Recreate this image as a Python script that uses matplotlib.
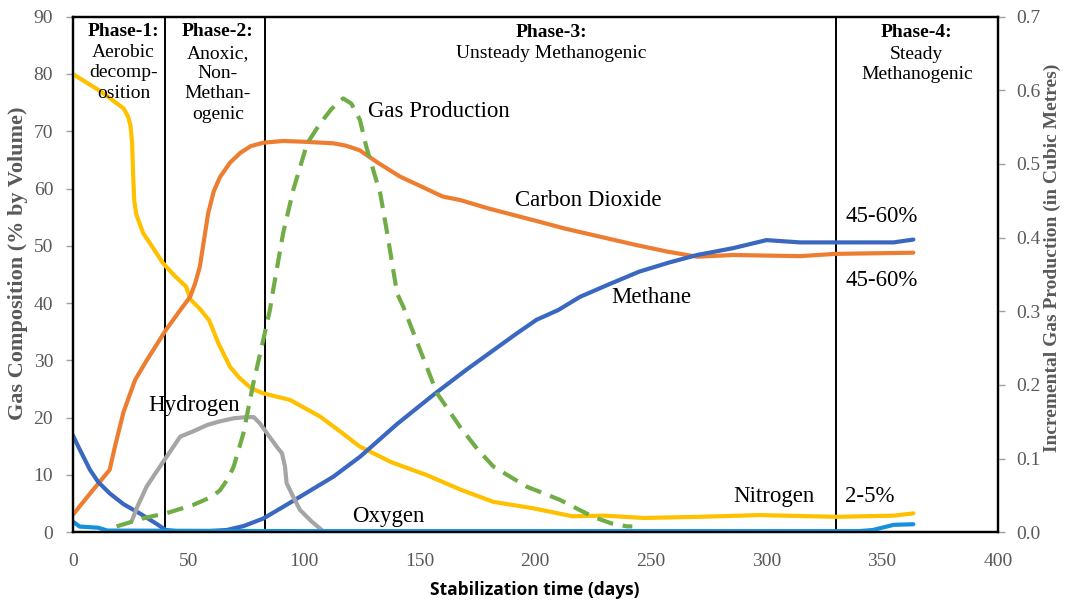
import matplotlib
matplotlib.use("Agg")
import matplotlib.pyplot as plt

# stabilisation time (days) and gas composition (% by volume)
nitrogen_days = [0, 12, 22, 24, 25, 25.7, 26.1, 26.6, 27.5, 30.5, 35, 39, 44, 49, 51, 55, 59, 63,
                 68, 72, 77, 82, 94, 107, 116, 124, 138, 153, 168, 182, 199, 216, 230, 247, 271,
                 297, 330, 355, 363.5]
nitrogen = [80, 77, 74, 72.5, 71, 68, 63, 58, 55.5, 52.2, 49.5, 47, 44.8, 42.9, 40.6, 39, 37, 33,
            28.9, 27, 25.2, 24.3, 23.1, 20.2, 17.5, 15, 12.2, 10, 7.4, 5.3, 4.2, 2.8, 2.9, 2.5, 2.7,
            3.0, 2.7, 2.9, 3.3]

co2_days = [0, 8, 16, 18.3, 22, 27, 32, 40.3, 46, 50.8, 53, 55, 58.6, 61, 63.7, 68, 72.4, 77,
            82.4, 91, 98.3, 112.7, 118, 124, 132, 141.5, 150, 160, 167.5, 180, 199, 213, 228,
            243, 257, 270, 285.6, 314.5, 330, 363.5]
co2 = [3.0, 7, 10.9, 15, 21, 26.6, 30, 35.3, 38.5, 41.1, 43.5, 46.4, 55.7, 59.5, 62, 64.5, 66.2,
       67.4, 68, 68.3, 68.2, 67.9, 67.5, 66.7, 64.5, 62.1, 60.5, 58.6, 58, 56.5, 54.5, 53, 51.6,
       50.2, 49, 48.1, 48.4, 48.2, 48.6, 48.8]

methane_days = [0, 3, 7.5, 11, 16, 22, 29, 35, 40.3, 47, 55, 66.6, 74, 82.4, 90, 98.3, 112.7, 124.3,
                140, 156, 170, 182, 192, 200.6, 210, 219.4, 232, 245, 258, 270, 285.6, 300, 314.5,
                330, 355, 363.5]
methane = [17, 14.5, 10.9, 8.8, 6.8, 4.9, 3.3, 1.8, 0.4, 0.1, 0.1, 0.4, 1.1, 2.4, 4.2, 6.2, 9.7, 13.2,
           18.8, 24, 28.3, 31.8, 34.7, 37.1, 38.8, 41.1, 43.3, 45.5, 47.1, 48.4, 49.6, 51, 50.6,
           50.6, 50.6, 51.1]

oxygen_days = [0, 3, 11, 15, 100, 200, 300, 340, 346, 351, 355, 363.5]
oxygen = [1.9, 1.0, 0.8, 0.3, 0.2, 0.2, 0.2, 0.2, 0.4, 0.9, 1.3, 1.4]

hydrogen_days = [25.5, 28, 32, 37.8, 42, 46.5, 52, 58, 63, 69.6, 75, 78.3, 81, 84, 88.3, 90.5, 91.8,
                 92.5, 95, 98.3, 103, 107.7]
hydrogen = [1.9, 4.5, 8, 11.5, 14, 16.7, 17.6, 18.7, 19.3, 19.9, 20.1, 20.1, 19, 17.3, 14.9, 13.8,
            11.5, 8.6, 6.5, 3.9, 2.0, 0.4]

# incremental gas production (cubic metres), right axis
gas_days = [19, 30.5, 40.6, 52, 60, 63.7, 67, 69.6, 73.8, 78.1, 82.4, 85.3, 86.7, 91, 95.4, 101.4,
            107, 112, 117, 120.5, 124.2, 127, 133, 136, 140.3, 143, 150.3, 157.5, 167.5, 175, 182,
            196.3, 210.7, 225, 233, 239.7, 242]
gas_prod = [0.008, 0.019, 0.026, 0.037, 0.048, 0.057, 0.072, 0.089, 0.134, 0.202, 0.261, 0.302,
            0.329, 0.406, 0.465, 0.528, 0.555, 0.575, 0.589, 0.582, 0.56, 0.523, 0.46, 0.406, 0.324,
            0.306, 0.247, 0.189, 0.143, 0.113, 0.089, 0.062, 0.044, 0.021, 0.012, 0.008, 0.008]

phase_bounds = [40, 83, 330]

SERIF = "Liberation Serif"
GREY = "#595959"

fig = plt.figure(figsize=(10.67, 6.02), dpi=100)
ax = fig.add_axes([0.0681, 0.1158, 0.8670, 0.8565])
ax2 = ax.twinx()

lw = 3.0
kw = dict(lw=lw, solid_capstyle="round", solid_joinstyle="round")
ax.plot(nitrogen_days, nitrogen, color="#FFC000", zorder=3, **kw)
ax.plot(co2_days, co2, color="#ED7D31", zorder=3, **kw)
ax.plot(methane_days, methane, color="#3A68C0", zorder=3, **kw)
ax.plot(hydrogen_days, hydrogen, color="#A5A5A5", zorder=3, **kw)
ax.plot(oxygen_days, oxygen, color="#1590DA", zorder=4, **kw)
ax2.plot(gas_days, gas_prod, color="#70AD47", lw=lw, dashes=(4, 2.3), zorder=3)

for b in phase_bounds:
    ax.axvline(b, color="black", lw=1.4, zorder=2)

ax.set_xlim(0, 400)
ax.set_ylim(0, 90)
ax2.set_ylim(0, 0.7)
ax.set_xticks(range(0, 401, 50))
ax.set_yticks(range(0, 91, 10))
ax2.set_yticks([i / 10 for i in range(8)])
ax2.set_yticklabels([f"{i / 10:.1f}" for i in range(8)])

for a in (ax, ax2):
    for s in a.spines.values():
        s.set_color("black")
        s.set_linewidth(1.6)
    a.tick_params(labelsize=14, labelcolor=GREY, color="#A0A0A0", length=5, width=1)
    for t in a.get_xticklabels() + a.get_yticklabels():
        t.set_fontfamily(SERIF)
ax.tick_params(axis="x", length=0, pad=15)
ax.tick_params(axis="y", pad=9)
ax2.tick_params(axis="y", pad=8)

ax.set_xlabel("Stabilization time (days)", fontfamily="Open Sans", fontweight="bold",
              fontsize=12.5, color="black")
ax.set_ylabel("Gas Composition (% by Volume)", fontfamily=SERIF, fontweight="bold",
              fontsize=16, color=GREY)
ax2.set_ylabel("Incremental Gas Production (in Cubic Metres)", fontfamily=SERIF,
               fontweight="bold", fontsize=14, color=GREY)
for lab in (ax.xaxis.label, ax.yaxis.label, ax2.yaxis.label):
    lab.set_verticalalignment("center")
ax.xaxis.set_label_coords(0.5, -0.112)
ax.yaxis.set_label_coords(-0.059, 0.522)
ax2.yaxis.set_label_coords(1.0587, 0.532)

# phase headings
tk = dict(fontfamily=SERIF, fontsize=14, ha="center", va="center", linespacing=1.25, zorder=5)
ax.text(22, 87.4, "Phase-1:", fontweight="bold", **tk)
ax.text(22, 80.2, "Aerobic\ndecomp-\nosition", **tk)
ax.text(62.8, 87.4, "Phase-2:", fontweight="bold", **tk)
ax.text(62.8, 78.3, "Anoxic,\nNon-\nMethan-\nogenic", **tk)
ax.text(207, 87.2, "Phase-3:", fontweight="bold", **tk)
ax.text(207, 83.6, "Unsteady Methanogenic", **tk)
ax.text(365, 87.2, "Phase-4:", fontweight="bold", **tk)
ax.text(365, 81.7, "Steady\nMethanogenic", **tk)

# curve labels
lk = dict(fontfamily=SERIF, fontsize=16.5, ha="left", va="center", zorder=5)
ax.text(127.8, 73.5, "Gas Production", **lk)
ax.text(191.3, 58, "Carbon Dioxide", **lk)
ax.text(233, 41, "Methane", **lk)
ax.text(32.6, 22.2, "Hydrogen", **lk)
ax.text(120.8, 2.8, "Oxygen", **lk)
ax.text(285.7, 6.2, "Nitrogen", **lk)
ax.text(334, 6.2, "2-5%", **lk)
ax.text(334, 55.2, "45-60%", **lk)
ax.text(334, 44, "45-60%", **lk)

fig.savefig("out.png", dpi=100)
